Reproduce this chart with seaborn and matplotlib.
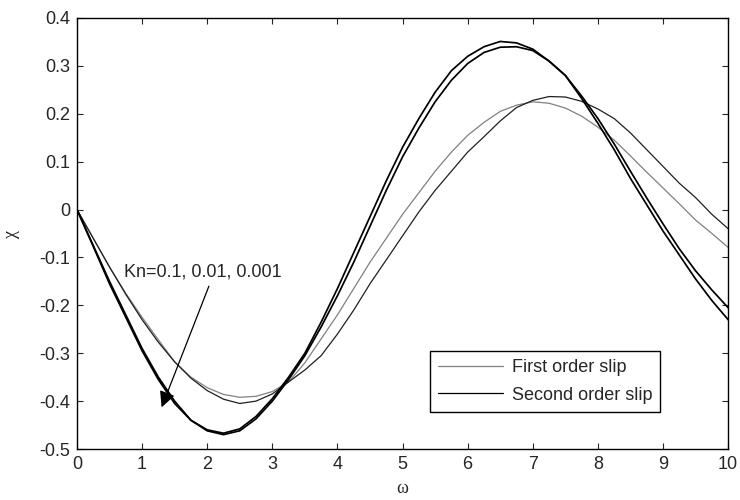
import numpy as np
import pandas as pd
import matplotlib
matplotlib.use("Agg")
import matplotlib.pyplot as plt
import seaborn as sns
from matplotlib.lines import Line2D

# omega grid (step 0.25)
omega = [0, 0.25, 0.5, 0.75, 1.0, 1.25, 1.5, 1.75, 2.0, 2.25, 2.5, 2.75, 3.0, 3.25,
         3.5, 3.75, 4.0, 4.25, 4.5, 4.75, 5.0, 5.25, 5.5, 5.75, 6.0, 6.25, 6.5, 6.75,
         7.0, 7.25, 7.5, 7.75, 8.0, 8.25, 8.5, 8.75, 9.0, 9.25, 9.5, 9.75, 10.0]

# first order slip curves
first_grey = [0, -0.06, -0.12, -0.175, -0.225, -0.272, -0.318, -0.35, -0.372, -0.386, -0.392,
              -0.39, -0.38, -0.36, -0.32, -0.27, -0.22, -0.165, -0.11, -0.06, -0.01, 0.035,
              0.08, 0.12, 0.155, 0.182, 0.205, 0.218, 0.225, 0.222, 0.212, 0.195, 0.172,
              0.145, 0.112, 0.078, 0.045, 0.012, -0.022, -0.05, -0.079]
first_dark = [0, -0.06, -0.12, -0.177, -0.23, -0.277, -0.318, -0.352, -0.378, -0.396, -0.405,
              -0.4, -0.385, -0.36, -0.335, -0.305, -0.26, -0.21, -0.155, -0.105, -0.055, -0.005,
              0.04, 0.08, 0.12, 0.152, 0.185, 0.213, 0.228, 0.236, 0.235, 0.226, 0.21,
              0.19, 0.16, 0.125, 0.09, 0.055, 0.025, -0.01, -0.04]

# second order slip curves
second_a = [0, -0.077, -0.155, -0.225, -0.295, -0.355, -0.405, -0.44, -0.46, -0.467, -0.458,
            -0.432, -0.395, -0.35, -0.3, -0.235, -0.165, -0.09, -0.015, 0.06, 0.13, 0.19,
            0.245, 0.29, 0.32, 0.34, 0.351, 0.348, 0.335, 0.31, 0.28, 0.232, 0.18,
            0.125, 0.065, 0.01, -0.045, -0.095, -0.145, -0.19, -0.23]
second_b = [0, -0.075, -0.15, -0.22, -0.29, -0.35, -0.4, -0.44, -0.462, -0.47, -0.462,
            -0.437, -0.4, -0.355, -0.305, -0.245, -0.18, -0.11, -0.035, 0.04, 0.11, 0.17,
            0.225, 0.27, 0.305, 0.328, 0.339, 0.34, 0.332, 0.31, 0.28, 0.237, 0.19,
            0.137, 0.08, 0.024, -0.03, -0.082, -0.128, -0.168, -0.205]

x_ticks = [0, 1, 2, 3, 4, 5, 6, 7, 8, 9, 10]
y_ticks = [-0.5, -0.4, -0.3, -0.2, -0.1, 0, 0.1, 0.2, 0.3, 0.4]
y_ticklabels = ["-0.5", "-0.4", "-0.3", "-0.2", "-0.1", "0", "0.1", "0.2", "0.3", "0.4"]

df = pd.DataFrame({"omega": omega, "g": first_grey, "d": first_dark,
                   "a": second_a, "b": second_b})

sns.set_style("ticks")
plt.rcParams["font.family"] = ["Liberation Sans", "DejaVu Sans"]
plt.rcParams["xtick.direction"] = "in"
plt.rcParams["ytick.direction"] = "in"

fig = plt.figure(figsize=(7.4, 5), dpi=100)
ax = fig.add_axes([0.104, 0.102, 0.88, 0.862])

sns.lineplot(data=df, x="omega", y="g", color="#808080", lw=0.9, ax=ax, label="_g")
sns.lineplot(data=df, x="omega", y="d", color="#202020", lw=0.9, ax=ax, label="_d")
sns.lineplot(data=df, x="omega", y="a", color="black", lw=1.25, ax=ax, label="_a")
sns.lineplot(data=df, x="omega", y="b", color="black", lw=1.25, ax=ax, label="_b")

ax.set_xlim(0, 10)
ax.set_ylim(-0.5, 0.4)
ax.set_xticks(x_ticks)
ax.set_yticks(y_ticks)
ax.set_yticklabels(y_ticklabels)
ax.tick_params(labelsize=13, length=4, width=0.8, top=True, right=True, pad=5)
for s in ax.spines.values():
    s.set_linewidth(1.0)
    s.set_color("black")

ax.set_xlabel("ω", family="Liberation Serif", fontsize=13, labelpad=5)
ax.set_ylabel("χ", family="Liberation Serif", fontsize=13, labelpad=14)

ax.annotate("Kn=0.1, 0.01, 0.001", xy=(1.3, -0.413), xytext=(0.73, -0.13),
            fontsize=13, va="center", ha="left",
            arrowprops=dict(arrowstyle="-|>", color="black", lw=0.9,
                            mutation_scale=24, shrinkA=2, shrinkB=0,
                            relpos=(0.55, 0.0)))

handles = [Line2D([], [], color="#808080", lw=0.9), Line2D([], [], color="black", lw=0.9)]
leg = ax.legend(handles, ["First order slip", "Second order slip"], loc="lower right",
                bbox_to_anchor=(0.896, 0.086), fontsize=13, frameon=True, fancybox=False,
                edgecolor="black", framealpha=1, handlelength=3.6, handletextpad=0.5,
                borderpad=0.45, labelspacing=0.6, borderaxespad=0)
leg.get_frame().set_linewidth(1.0)

fig.savefig("out.png", dpi=100)
